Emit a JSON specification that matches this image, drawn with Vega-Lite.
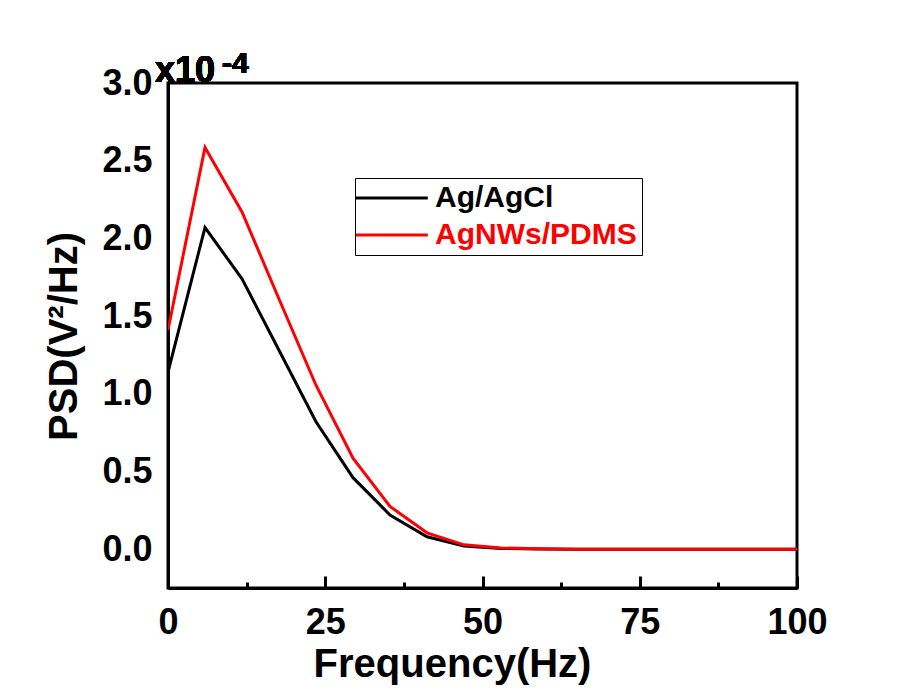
{
  "$schema": "https://vega.github.io/schema/vega-lite/v6.json",
  "width": 629,
  "height": 505,
  "autosize": {"type": "none"},
  "padding": {"left": 168, "top": 83, "right": 112, "bottom": 109},
  "background": "white",
  "config": {
    "view": {"stroke": "black", "strokeWidth": 3},
    "font": "Liberation Sans"
  },
  "data": {
    "values": [
      {"freq": 0, "psd": 1.14, "series": "Ag/AgCl"},
      {"freq": 5.882, "psd": 2.07, "series": "Ag/AgCl"},
      {"freq": 11.765, "psd": 1.74, "series": "Ag/AgCl"},
      {"freq": 17.647, "psd": 1.28, "series": "Ag/AgCl"},
      {"freq": 23.529, "psd": 0.82, "series": "Ag/AgCl"},
      {"freq": 29.412, "psd": 0.46, "series": "Ag/AgCl"},
      {"freq": 35.294, "psd": 0.22, "series": "Ag/AgCl"},
      {"freq": 41.176, "psd": 0.08, "series": "Ag/AgCl"},
      {"freq": 47.059, "psd": 0.02, "series": "Ag/AgCl"},
      {"freq": 52.941, "psd": 0.005, "series": "Ag/AgCl"},
      {"freq": 58.824, "psd": 0.001, "series": "Ag/AgCl"},
      {"freq": 64.706, "psd": 0, "series": "Ag/AgCl"},
      {"freq": 70.588, "psd": 0, "series": "Ag/AgCl"},
      {"freq": 76.471, "psd": 0, "series": "Ag/AgCl"},
      {"freq": 82.353, "psd": 0, "series": "Ag/AgCl"},
      {"freq": 88.235, "psd": 0, "series": "Ag/AgCl"},
      {"freq": 94.118, "psd": 0, "series": "Ag/AgCl"},
      {"freq": 100, "psd": 0, "series": "Ag/AgCl"},
      {"freq": 0, "psd": 1.41, "series": "AgNWs/PDMS"},
      {"freq": 5.882, "psd": 2.585, "series": "AgNWs/PDMS"},
      {"freq": 11.765, "psd": 2.17, "series": "AgNWs/PDMS"},
      {"freq": 17.647, "psd": 1.61, "series": "AgNWs/PDMS"},
      {"freq": 23.529, "psd": 1.055, "series": "AgNWs/PDMS"},
      {"freq": 29.412, "psd": 0.585, "series": "AgNWs/PDMS"},
      {"freq": 35.294, "psd": 0.275, "series": "AgNWs/PDMS"},
      {"freq": 41.176, "psd": 0.105, "series": "AgNWs/PDMS"},
      {"freq": 47.059, "psd": 0.028, "series": "AgNWs/PDMS"},
      {"freq": 52.941, "psd": 0.008, "series": "AgNWs/PDMS"},
      {"freq": 58.824, "psd": 0.002, "series": "AgNWs/PDMS"},
      {"freq": 64.706, "psd": 0, "series": "AgNWs/PDMS"},
      {"freq": 70.588, "psd": 0, "series": "AgNWs/PDMS"},
      {"freq": 76.471, "psd": 0, "series": "AgNWs/PDMS"},
      {"freq": 82.353, "psd": 0, "series": "AgNWs/PDMS"},
      {"freq": 88.235, "psd": 0, "series": "AgNWs/PDMS"},
      {"freq": 94.118, "psd": 0, "series": "AgNWs/PDMS"},
      {"freq": 100, "psd": 0, "series": "AgNWs/PDMS"}
    ]
  },
  "resolve": {"axis": {"x": "independent", "y": "independent"}},
  "layer": [
    {
      "mark": {"type": "line", "strokeWidth": 3, "clip": true},
      "encoding": {
        "x": {
          "field": "freq", "type": "quantitative",
          "scale": {"domain": [0, 100], "nice": false, "zero": false},
          "axis": {
            "orient": "bottom",
            "values": [0, 25, 50, 75, 100],
            "title": "Frequency(Hz)",
            "grid": false,
            "tickSize": -12, "tickWidth": 3, "tickColor": "black",
            "domainWidth": 3, "domainColor": "black",
            "labelFont": "Liberation Sans", "labelFontSize": 36, "labelFontWeight": "bold", "labelColor": "black",
            "labelPadding": 29, "labelFlush": false, "labelOverlap": false,
            "titleFont": "Liberation Sans", "titleFontSize": 40, "titleFontWeight": "bold", "titleColor": "black",
            "titleX": 284, "titleY": 88, "titleBaseline": "alphabetic", "titleAlign": "center"
          }
        },
        "y": {
          "field": "psd", "type": "quantitative",
          "scale": {"domain": [-0.25, 3], "nice": false, "zero": false},
          "axis": {
            "orient": "left",
            "values": [0, 0.5, 1, 1.5, 2, 2.5, 3],
            "format": ".1f",
            "title": "PSD(V²/Hz)",
            "grid": false,
            "ticks": false,
            "domainWidth": 3, "domainColor": "black",
            "labelFont": "Liberation Sans", "labelFontSize": 36, "labelFontWeight": "bold", "labelColor": "black",
            "labelPadding": 16, "labelOverlap": false, "labelFlush": false,
            "titleFont": "Liberation Sans", "titleFontSize": 40, "titleFontWeight": "bold", "titleColor": "black",
            "titleX": -92, "titleY": 253, "titleAngle": -90, "titleBaseline": "alphabetic", "titleAlign": "center"
          }
        },
        "color": {
          "field": "series", "type": "nominal",
          "scale": {"domain": ["Ag/AgCl", "AgNWs/PDMS"], "range": ["#000000", "#ff0000"]},
          "legend": {
            "orient": "none", "legendX": 187, "legendY": 95,
            "title": null,
            "symbolType": "M-1.6,0H4.4", "symbolSize": 576, "symbolStrokeWidth": 3,
            "labelFont": "Liberation Sans", "labelFontSize": 30, "labelFontWeight": "bold",
            "labelOffset": 45, "labelLimit": 400,
            "strokeColor": "black", "padding": 5, "rowPadding": 7,
            "encode": {
              "labels": {"update": {"fill": {"signal": "datum.value === 'AgNWs/PDMS' ? '#ff0000' : '#000000'"}}}
            }
          }
        }
      }
    },
    {
      "mark": {"type": "line", "opacity": 0},
      "encoding": {
        "x": {
          "field": "freq", "type": "quantitative",
          "axis": {
            "orient": "bottom",
            "values": [12.5, 37.5, 62.5, 87.5],
            "labels": false, "domain": false, "grid": false, "title": null,
            "tickSize": -6, "tickWidth": 3, "tickColor": "black"
          }
        },
        "y": {"field": "psd", "type": "quantitative", "axis": null}
      }
    },
    {
      "mark": {"type": "text", "text": "x10", "align": "left", "baseline": "alphabetic", "dx": -13, "dy": -1, "fontSize": 36, "fontWeight": "bold", "font": "Liberation Sans", "color": "black"},
      "encoding": {
        "x": {"datum": 0, "type": "quantitative", "axis": null},
        "y": {"datum": 3, "type": "quantitative", "axis": null}
      }
    },
    {
      "mark": {"type": "text", "text": "-4", "align": "left", "baseline": "alphabetic", "dx": 54, "dy": -10, "fontSize": 30, "fontWeight": "bold", "font": "Liberation Sans", "color": "black"},
      "encoding": {
        "x": {"datum": 0, "type": "quantitative", "axis": null},
        "y": {"datum": 3, "type": "quantitative", "axis": null}
      }
    }
  ]
}
